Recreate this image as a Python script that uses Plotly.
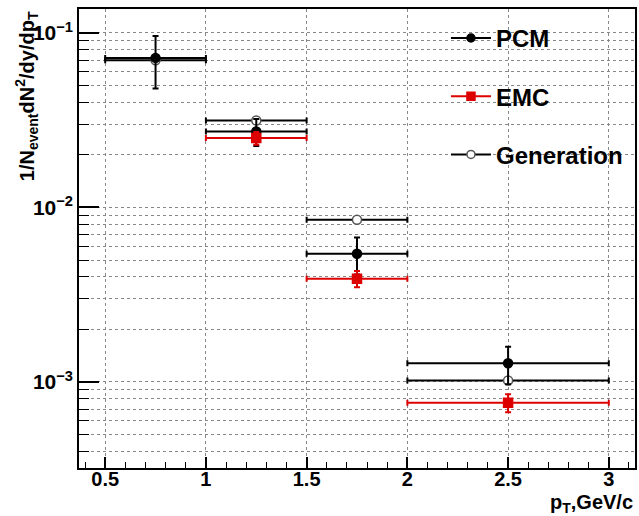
import plotly.graph_objects as go

# ---- data ----
pt_center = [0.75, 1.25, 1.75, 2.5]
pt_halfwidth = [0.25, 0.25, 0.25, 0.5]

pcm_vals = [0.072, 0.0273, 0.00543, 0.00128]
pcm_errs = [0.024, 0.0048, 0.0013, 0.00031]

emc_pt = [1.25, 1.75, 2.5]
emc_halfwidth = [0.25, 0.25, 0.5]
emc_vals = [0.0250, 0.00391, 0.00076]
emc_errs = [0.0021, 0.00042, 0.00009]

gen_vals = [0.0697, 0.0315, 0.00851, 0.00102]
gen_errs = [0.0, 0.0, 0.0, 0.0]

x_tickvals = [0.5, 1, 1.5, 2, 2.5, 3]
x_ticktext = ["0.5", "1", "1.5", "2", "2.5", "3"]
y_tickvals = [1e-3, 1e-2, 1e-1]
y_ticktext = ["10<sup>\u22123</sup>", "10<sup>\u22122</sup>", "10<sup>\u22121</sup>"]
y_minor = [m * 10.0 ** e for e in (-4, -3, -2, -1) for m in range(2, 10)]

RED = "#dd0000"
FONT = "Liberation Sans, Arial, sans-serif"

fig = go.Figure()

def add_series(x, y, xe, ye, color, symbol, mcolor, mline, name, rank):
    fig.add_trace(go.Scatter(
        x=x, y=y, mode="markers", showlegend=False,
        marker=dict(symbol=symbol, size=9, color=mcolor,
                    line=dict(color=mline, width=1.5)),
        error_x=dict(type="data", array=xe, color=color, thickness=2, width=3),
        error_y=dict(type="data", array=ye, color=color, thickness=2, width=3),
    ))
    fig.add_trace(go.Scatter(
        x=[None], y=[None], mode="lines+markers", name=name,
        legendgroup=name, legendrank=rank,
        line=dict(color=color, width=2),
        marker=dict(symbol=symbol, size=8, color=mcolor,
                    line=dict(color=mline, width=1.5)),
    ))

add_series(pt_center, gen_vals, pt_halfwidth, gen_errs, "black", "circle",
           "white", "#555555", "Generation", 3)
add_series(pt_center, pcm_vals, pt_halfwidth, pcm_errs, "black", "circle",
           "black", "black", "PCM", 1)
add_series(emc_pt, emc_vals, emc_halfwidth, emc_errs, RED, "square",
           RED, RED, "EMC", 2)

fig.update_layout(
    width=639, height=516,
    margin=dict(l=79, r=2, t=9, b=48),
    paper_bgcolor="white", plot_bgcolor="white",
    font=dict(family=FONT, size=20, color="black", weight="bold"),
    legend=dict(
        x=0.66, y=0.985, xanchor="left", yanchor="top",
        bgcolor="rgba(0,0,0,0)", borderwidth=0,
        font=dict(family=FONT, size=24, color="black", weight="bold"),
        tracegroupgap=24, itemwidth=40,
    ),
    xaxis=dict(
        range=[0.37, 3.13],
        tickmode="array", tickvals=x_tickvals, ticktext=x_ticktext,
        ticks="inside", ticklen=11, tickwidth=1.5, tickcolor="black",
        ticklabelstandoff=-8,
        showline=True, linecolor="black", linewidth=1.5, mirror=True,
        showgrid=True, gridcolor="#888888", griddash="dot", gridwidth=1,
        zeroline=False,
        tickfont=dict(family=FONT, size=20, weight="bold"),
        minor=dict(dtick=0.1, tick0=0, ticks="inside", ticklen=6,
                   tickwidth=1.2, tickcolor="black", showgrid=False),
    ),
    yaxis=dict(
        type="log", range=[-3.493, -0.8625],
        tickmode="array", tickvals=y_tickvals, ticktext=y_ticktext,
        ticks="inside", ticklen=20, tickwidth=1.5, tickcolor="black",
        showline=True, linecolor="black", linewidth=1.5, mirror=True,
        showgrid=True, gridcolor="#888888", griddash="dot", gridwidth=1,
        zeroline=False,
        tickfont=dict(family=FONT, size=21, weight="bold"),
        minor=dict(tickmode="array", tickvals=y_minor, ticks="inside",
                   ticklen=10, tickwidth=1.2, tickcolor="black",
                   showgrid=True, gridcolor="#888888", griddash="dot",
                   gridwidth=1),
    ),
    annotations=[
        dict(text="1/N<sub>event</sub>dN<sup>2</sup>/dy/dp<sub>T</sub>",
             xref="paper", yref="paper", x=-0.095, y=1.0,
             xanchor="center", yanchor="top", textangle=-90,
             showarrow=False,
             font=dict(family=FONT, size=20, color="black", weight="bold")),
        dict(text="p<sub>T</sub>,GeV/c",
             xref="paper", yref="paper", x=1.0, y=-0.078,
             xanchor="right", yanchor="middle", showarrow=False,
             font=dict(family=FONT, size=20, color="black", weight="bold")),
    ],
)

fig.write_html("out.html")
